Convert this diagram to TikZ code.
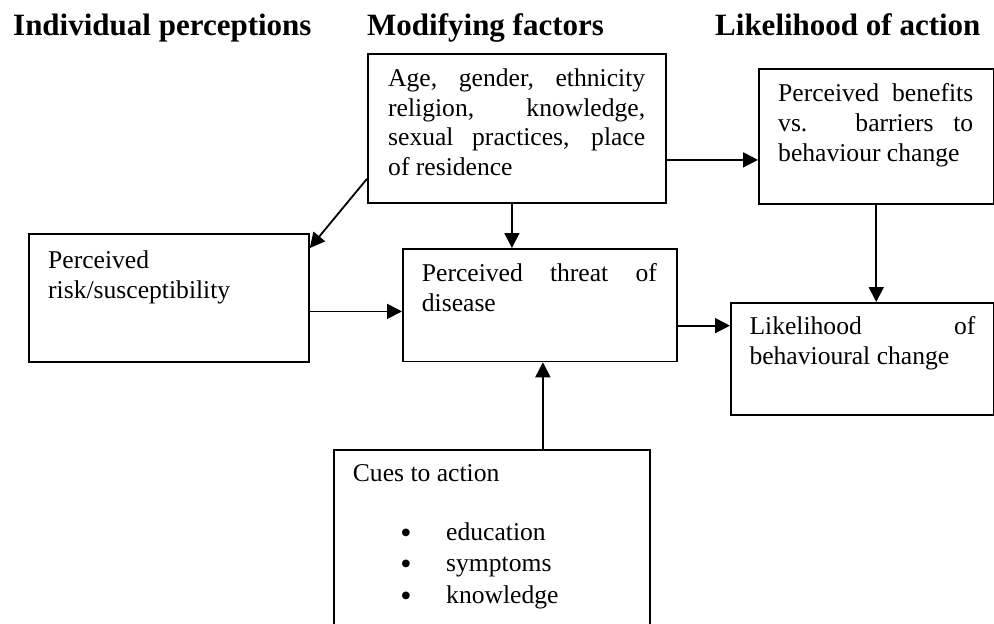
\documentclass[tikz,border=0pt]{standalone}
\usepackage{fontspec}
\setmainfont{Liberation Serif}
\usetikzlibrary{arrows.meta,calc}
\begin{document}
\begin{tikzpicture}[x=1pt,y=-1pt,
  boxshape/.style={draw,line width=1.8pt,inner sep=0pt,anchor=north west},
  arr/.style={line width=1.8pt,-{Triangle[length=15pt,width=15pt]}},
  txt/.style={anchor=base west,inner sep=0pt,font=\fontsize{25.6pt}{30pt}\selectfont},
  bul/.style={anchor=base,inner sep=0pt,font=\fontsize{32pt}{36pt}\selectfont},
  head/.style={anchor=base west,inner sep=0pt,font=\fontsize{31pt}{36pt}\selectfont\bfseries}]
\useasboundingbox (0,0) rectangle (994,624);
\clip (0,0) rectangle (994,624);

% headings
\node[head] (h1) at (13,35) {Individual perceptions};
\node[head] (h2) at (367,35) {Modifying factors};
\node[head] (h3) at (715,35) {Likelihood of action};

% boxes
\node[boxshape,minimum width=298pt,minimum height=149pt] (age) at (367,53) {};
\node[boxshape,minimum width=234.7pt,minimum height=134.7pt] (benefits) at (758,68) {};
\node[boxshape,minimum width=280pt,minimum height=128pt] (risk) at (28,233) {};
\node[boxshape,minimum width=274pt,minimum height=112.5pt] (threat) at (402,248) {};
\node[boxshape,minimum width=262.7pt,minimum height=112pt] (likely) at (730,302) {};
\node[boxshape,minimum width=316pt,minimum height=250pt] (cues) at (333,449) {};

% age text
\node[txt] (age1) at (388,86.5) {\makebox[257pt][s]{Age, gender, ethnicity}};
\node[txt] (age2) at (388,116) {\makebox[257pt][s]{religion, knowledge,}};
\node[txt] (age3) at (388,145.7) {\makebox[257pt][s]{sexual practices, place}};
\node[txt] (age4) at (388,175.3) {of residence};

% benefits text
\node[txt] (ben1) at (778,101.7) {\makebox[195pt][s]{Perceived benefits}};
\node[txt] (ben2) at (778,131.3) {\makebox[195pt][s]{vs. barriers to}};
\node[txt] (ben3) at (778,161) {behaviour change};

% risk text
\node[txt] (risk1) at (48,268) {Perceived};
\node[txt] (risk2) at (48,298) {risk/susceptibility};

% threat text
\node[txt] (thr1) at (421.7,281) {\makebox[235pt][s]{Perceived threat of}};
\node[txt] (thr2) at (421.7,311.5) {disease};

% likelihood text
\node[txt] (lik1) at (749.3,334.3) {\makebox[226pt][s]{Likelihood of}};
\node[txt] (lik2) at (749.3,364.8) {behavioural change};

% cues text
\node[txt] (cue0) at (352.7,481.7) {Cues to action};
\node[bul] (b1) at (406,543) {•};
\node[bul] (b2) at (406,574.5) {•};
\node[bul] (b3) at (406,606) {•};
\node[txt] (cue1) at (446,540) {education};
\node[txt] (cue2) at (446,571.5) {symptoms};
\node[txt] (cue3) at (446,603) {knowledge};

% connectors
\coordinate (c1) at ([yshift=25pt]age.south west);
\coordinate (c2) at ([yshift=-15pt]risk.north east);
\draw[arr] (c1) -- (c2);
\coordinate (c3) at ([xshift=-5pt]age.south);
\draw[arr] (c3) -- (c3 |- threat.north);
\coordinate (c4) at ([yshift=-31.5pt]age.east);
\draw[arr] (c4) -- (c4 -| benefits.west);
\draw[arr] (benefits.south) -- (benefits.south |- likely.north);
\coordinate (c5) at ([yshift=-13.5pt]risk.east);
\draw[arr] (c5) -- (c5 -| threat.west);
\coordinate (c6) at ([yshift=-20.5pt]threat.east);
\draw[arr] (c6) -- (c6 -| likely.west);
\coordinate (c7) at ([xshift=51pt]cues.north);
\draw[arr] (c7) -- (c7 |- threat.south);
\end{tikzpicture}
\end{document}
